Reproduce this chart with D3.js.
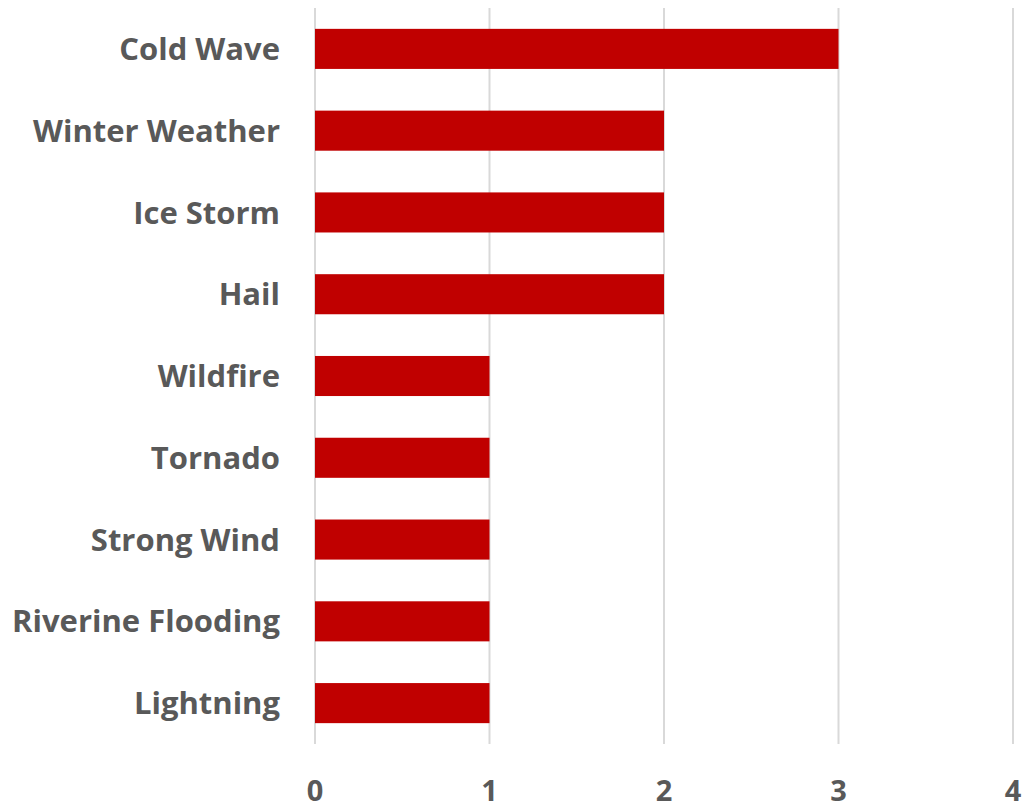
<!DOCTYPE html>
<html>
<head>
<meta charset="utf-8">
<script src="https://cdn.jsdelivr.net/npm/d3@7"></script>
<style>
  body { margin: 0; background: #fff; }
  text { font-family: "Open Sans", "Liberation Sans", sans-serif; font-weight: bold; fill: #595959; }
</style>
</head>
<body>
<div id="chart"></div>
<script>
const categories = ["Cold Wave", "Winter Weather", "Ice Storm", "Hail", "Wildfire",
                    "Tornado", "Strong Wind", "Riverine Flooding", "Lightning"];
const values = [3, 2, 2, 2, 1, 1, 1, 1, 1];
const xTicks = [0, 1, 2, 3, 4];

const width = 1025;
const height = 812;
const margin = { top: 8, right: 12, bottom: 68, left: 315 };

const svg = d3.select("#chart").append("svg")
    .attr("width", width)
    .attr("height", height);

const x = d3.scaleLinear()
    .domain([0, 4])
    .range([margin.left, width - margin.right]);

const y = d3.scaleBand()
    .domain(categories)
    .range([margin.top, height - margin.bottom])
    .paddingInner(0.51)
    .paddingOuter(0.255);

// gridlines
svg.append("g")
    .selectAll("line")
    .data(xTicks)
    .enter().append("line")
    .attr("x1", d => x(d))
    .attr("x2", d => x(d))
    .attr("y1", margin.top)
    .attr("y2", height - margin.bottom)
    .attr("stroke", "#d9d9d9")
    .attr("stroke-width", 2);

// bars
svg.append("g")
    .selectAll("rect")
    .data(categories)
    .enter().append("rect")
    .attr("x", x(0))
    .attr("y", d => y(d))
    .attr("width", (d, i) => x(values[i]) - x(0))
    .attr("height", y.bandwidth())
    .attr("fill", "#c00000");

// category labels
svg.append("g")
    .selectAll("text")
    .data(categories)
    .enter().append("text")
    .attr("x", 280)
    .attr("y", d => y(d) + y.bandwidth() / 2)
    .attr("dy", "0.36em")
    .attr("text-anchor", "end")
    .attr("font-size", 31)
    .text(d => d);

// x tick labels
svg.append("g")
    .selectAll("text")
    .data(xTicks)
    .enter().append("text")
    .attr("x", d => x(d))
    .attr("y", 801)
    .attr("text-anchor", "middle")
    .attr("font-size", 29)
    .text(d => d);
</script>
</body>
</html>
